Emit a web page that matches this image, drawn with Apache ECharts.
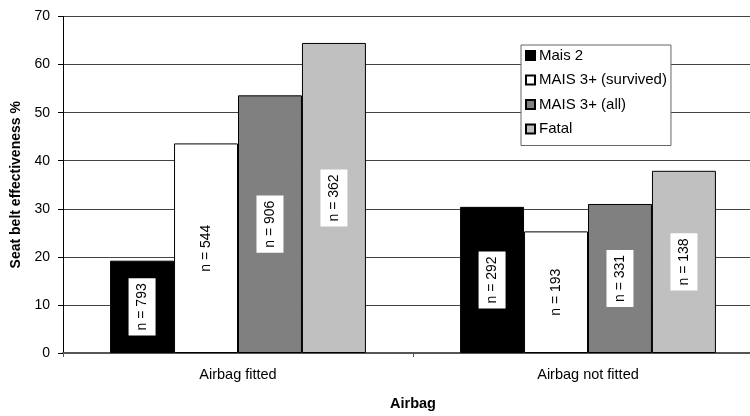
<!DOCTYPE html>
<html>
<head>
<meta charset="utf-8">
<script src="https://cdn.jsdelivr.net/npm/echarts@6/dist/echarts.min.js"></script>
<style>html,body{margin:0;padding:0;background:#fff;overflow:hidden;width:750px;height:416px}#c{width:764px;height:416px}</style>
</head>
<body>
<div id="c"></div>
<script>
var categories = ['Airbag fitted', 'Airbag not fitted'];
var seriesNames = ['Mais 2', 'MAIS 3+ (survived)', 'MAIS 3+ (all)', 'Fatal'];
var mais2 = [19.2, 30.4];
var mais3Survived = [43.6, 25.3];
var mais3All = [53.6, 31.0];
var fatal = [64.5, 37.9];
var nMais2 = [793, 292];
var nMais3Survived = [544, 193];
var nMais3All = [906, 331];
var nFatal = [362, 138];
var yTicks = [0, 10, 20, 30, 40, 50, 60, 70];

var FONT = 'Liberation Sans, Arial, sans-serif';
var colors = ['#000000', '#ffffff', '#808080', '#c0c0c0'];
var values = [mais2, mais3Survived, mais3All, fatal];
var counts = [nMais2, nMais3Survived, nMais3All, nFatal];

var chart = echarts.init(document.getElementById('c'), null, {renderer: 'canvas'});
var series = seriesNames.map(function (name, i) {
  return {
    name: name,
    type: 'bar',
    data: values[i],
    barGap: '0%',
    barCategoryGap: '26.9%',
    itemStyle: {color: colors[i], borderColor: '#000', borderWidth: 1},
    label: {
      show: true,
      position: 'inside',
      rotate: 90,
      formatter: function (p) { return 'n = ' + counts[i][p.dataIndex]; },
      color: '#000',
      fontFamily: FONT,
      fontSize: 14,
      lineHeight: 15,
      backgroundColor: '#fff',
      padding: [6, 5]
    }
  };
});

chart.setOption({
  animation: false,
  backgroundColor: '#fff',
  textStyle: {fontFamily: FONT},
  grid: {left: 63, top: 16.5, right: 1, bottom: 57, containLabel: false},
  legend: {
    orient: 'vertical',
    left: 521,
    top: 45,
    data: seriesNames,
    icon: 'rect',
    itemWidth: 9,
    itemHeight: 9,
    itemGap: 9.5,
    backgroundColor: '#fff',
    borderColor: '#666',
    borderWidth: 1,
    borderRadius: 0,
    padding: [3, 4, 9, 4],
    textStyle: {fontFamily: FONT, fontSize: 15, lineHeight: 15, color: '#000', padding: [0, 0, 0, -1]}
  },
  xAxis: {
    type: 'category',
    data: categories,
    name: 'Airbag',
    nameLocation: 'middle',
    nameGap: 43,
    nameTextStyle: {fontFamily: FONT, fontSize: 14.5, fontWeight: 'bold', color: '#000'},
    axisLine: {lineStyle: {color: '#555', width: 2}},
    axisTick: {show: true, length: 4, lineStyle: {color: '#555', width: 1}},
    axisLabel: {fontFamily: FONT, fontSize: 14.5, color: '#000', margin: 14}
  },
  yAxis: {
    type: 'value',
    min: 0,
    max: 70,
    interval: 10,
    name: 'Seat belt effectiveness %',
    nameLocation: 'middle',
    nameGap: 36,
    nameTextStyle: {fontFamily: FONT, fontSize: 14, fontWeight: 'bold', color: '#000'},
    axisLine: {show: true, lineStyle: {color: '#000', width: 1}},
    axisTick: {show: true, length: 5, lineStyle: {color: '#000'}},
    axisLabel: {fontFamily: FONT, fontSize: 14, color: '#000', margin: 13,
      formatter: function (v) { return yTicks.indexOf(v) >= 0 ? String(v) : ''; }},
    splitLine: {show: true, lineStyle: {color: '#444', width: 1}}
  },
  series: series
});
</script>
</body>
</html>
